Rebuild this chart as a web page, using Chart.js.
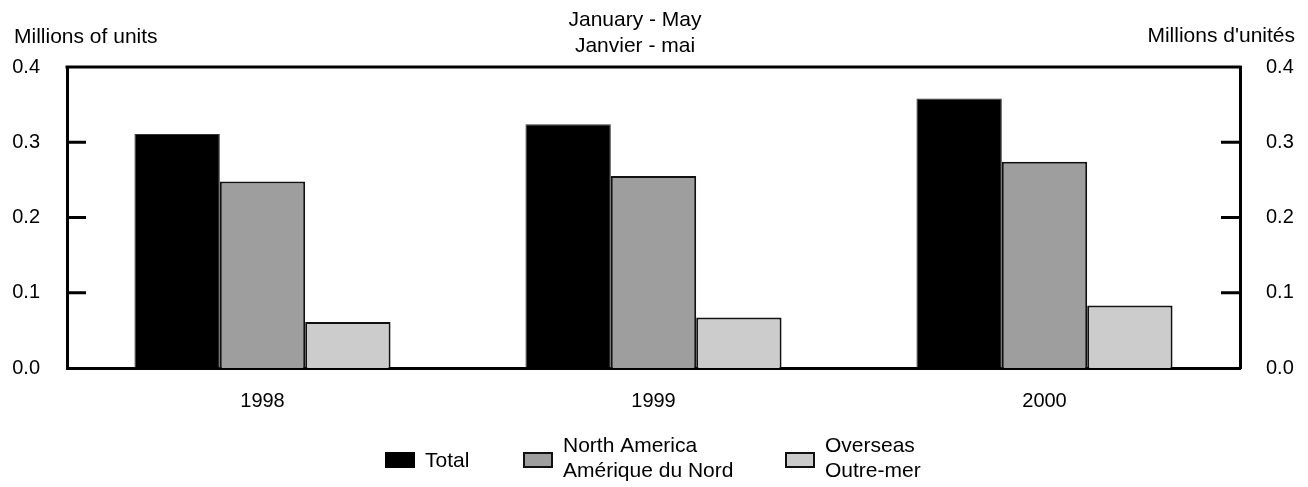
<!DOCTYPE html>
<html>
<head>
<meta charset="utf-8">
<script src="https://cdn.jsdelivr.net/npm/chart.js@4/dist/chart.umd.min.js"></script>
<style>
  html, body { margin: 0; padding: 0; background: #fff; }
  #wrap { width: 1308px; height: 487px; }
</style>
</head>
<body>
<div id="wrap"><canvas id="bar-chart"></canvas></div>
<script>
// data
const years = ["1998", "1999", "2000"];
const total = [0.311, 0.324, 0.358];
const northAmerica = [0.248, 0.255, 0.274];
const overseas = [0.061, 0.067, 0.083];
const yTicks = [0.1, 0.2, 0.3];

const FONT = "'Liberation Sans', Arial, sans-serif";

// titles, inward ticks, top frame line and legend
const decor = {
  id: 'decor',
  afterDraw(chart) {
    const { ctx, chartArea: a, scales } = chart;
    ctx.save();
    ctx.strokeStyle = '#000';
    ctx.lineWidth = 3;
    ctx.lineCap = 'square';
    ctx.beginPath();
    ctx.moveTo(a.left, a.top);
    ctx.lineTo(a.right, a.top);
    ctx.stroke();
    ctx.lineCap = 'butt';
    ctx.beginPath();
    yTicks.forEach(v => {
      const y = scales.y.getPixelForValue(v);
      ctx.moveTo(a.left, y); ctx.lineTo(a.left + 19, y);
      ctx.moveTo(a.right, y); ctx.lineTo(a.right - 19, y);
    });
    ctx.stroke();

    ctx.fillStyle = '#000';
    ctx.font = '21px ' + FONT;
    ctx.textBaseline = 'middle';
    ctx.textAlign = 'center';
    ctx.fillText('January - May', 635, 20);
    ctx.fillText('Janvier - mai', 635, 46);
    ctx.textAlign = 'left';
    ctx.fillText('Millions of units', 14, 37);
    ctx.textAlign = 'right';
    ctx.fillText("Millions d'unités", 1295, 36);

    // legend
    const items = [
      { x: 385, lines: ['Total'] },
      { x: 523, lines: ['North America', 'Amérique du Nord'] },
      { x: 785, lines: ['Overseas', 'Outre-mer'] }
    ];
    ctx.textAlign = 'left';
    items.forEach((it, i) => {
      const ds = chart.data.datasets[i];
      ctx.fillStyle = ds.backgroundColor;
      ctx.fillRect(it.x, 452, 30, 16);
      if (i > 0) {
        ctx.strokeStyle = '#111';
        ctx.lineWidth = 2;
        ctx.strokeRect(it.x + 1, 453, 28, 14);
      }
      ctx.fillStyle = '#000';
      if (it.lines.length === 1) {
        ctx.fillText(it.lines[0], it.x + 40, 461);
      } else {
        ctx.fillText(it.lines[0], it.x + 40, 446);
        ctx.fillText(it.lines[1], it.x + 40, 471);
      }
    });
    ctx.restore();
  }
};

new Chart(document.getElementById("bar-chart"), {
  type: 'bar',
  data: {
    labels: years,
    datasets: [
      { label: "Total", data: total, backgroundColor: '#000000', borderColor: '#333333', borderWidth: 1 },
      { label: "North America", data: northAmerica, backgroundColor: '#9e9e9e', borderColor: '#111111', borderWidth: 2 },
      { label: "Overseas", data: overseas, backgroundColor: '#cccccc', borderColor: '#111111', borderWidth: 2 }
    ]
  },
  options: {
    responsive: true,
    maintainAspectRatio: false,
    animation: false,
    layout: { padding: { top: 67, left: 0, right: 0, bottom: 0 } },
    datasets: { bar: { barPercentage: 1, categoryPercentage: 0.655 } },
    plugins: { legend: { display: false }, title: { display: false }, tooltip: { enabled: false } },
    scales: {
      x: {
        grid: { display: false, drawTicks: false },
        border: { display: true, width: 3, color: '#000' },
        ticks: { color: '#000', font: { family: FONT, size: 20 }, padding: 21 },
        afterFit: s => { s.height = 119; }
      },
      y: {
        position: 'left',
        min: 0, max: 0.4,
        grid: { display: false, drawTicks: false },
        border: { display: true, width: 3, color: '#000' },
        ticks: { stepSize: 0.1, color: '#000', font: { family: FONT, size: 20 }, padding: 27, callback: v => v.toFixed(1) },
        afterFit: s => { s.width = 67; }
      },
      y2: {
        position: 'right',
        min: 0, max: 0.4,
        grid: { display: false, drawTicks: false },
        border: { display: true, width: 3, color: '#000' },
        ticks: { stepSize: 0.1, color: '#000', font: { family: FONT, size: 20 }, padding: 26, callback: v => v.toFixed(1) },
        afterFit: s => { s.width = 68; }
      }
    }
  },
  plugins: [decor]
});
</script>
</body>
</html>
